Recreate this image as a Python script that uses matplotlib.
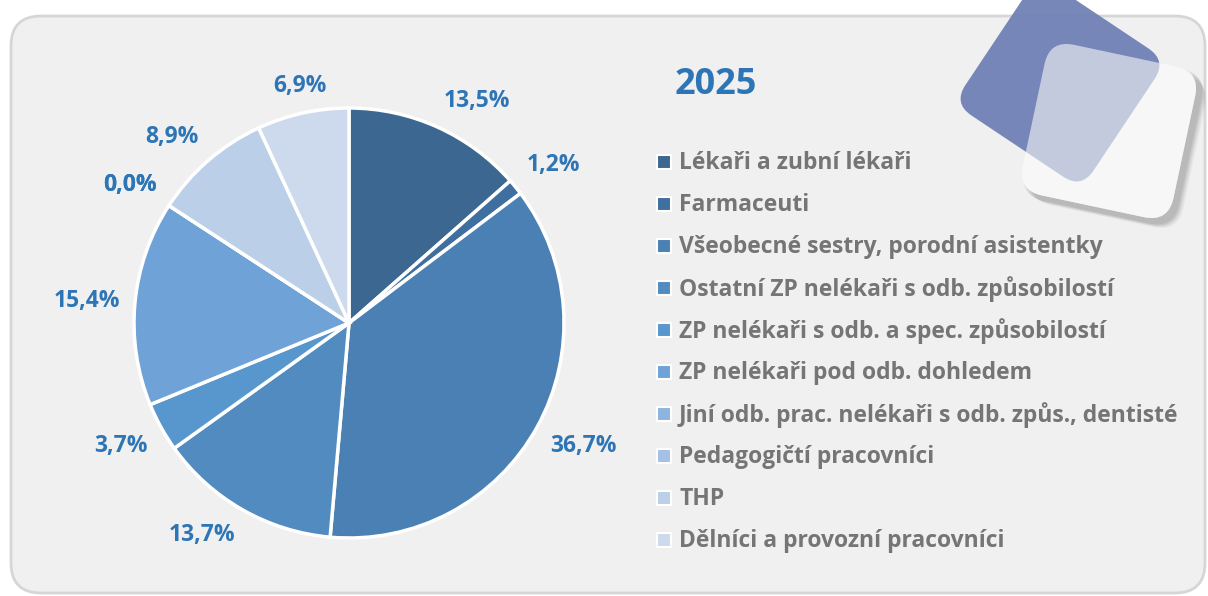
import matplotlib

matplotlib.use("Agg")
import matplotlib.pyplot as plt
import numpy as np
from matplotlib.patches import FancyBboxPatch
from matplotlib.transforms import Affine2D

plt.rcParams["font.family"] = ["Open Sans", "DejaVu Sans"]

title = "2025"
categories = [
    "Lékaři a zubní lékaři",
    "Farmaceuti",
    "Všeobecné sestry, porodní asistentky",
    "Ostatní ZP nelékaři s odb. způsobilostí",
    "ZP nelékaři s odb. a spec. způsobilostí",
    "ZP nelékaři pod odb. dohledem",
    "Jiní odb. prac. nelékaři s odb. způs., dentisté",
    "Pedagogičtí pracovníci",
    "THP",
    "Dělníci a provozní pracovníci",
]
shares = [13.5, 1.2, 36.7, 13.7, 3.7, 15.4, 0.0, 0.0, 8.9, 6.9]
colors = ["#3c6790", "#3f6f9f", "#4b80b4", "#528bc0", "#5897cd",
          "#6fa3d7", "#8db3df", "#a6c1e5", "#bbcfe8", "#cddaee"]

W, H = 1208, 596
fig = plt.figure(figsize=(W / 100, H / 100), dpi=100, facecolor="white")

# background panel + decorations, in pixel coords
bg = fig.add_axes([0, 0, 1, 1])
bg.set_xlim(0, W)
bg.set_ylim(H, 0)
bg.axis("off")
bg.add_patch(FancyBboxPatch((11, 16), 1194, 577, boxstyle="round,pad=0,rounding_size=30",
                            fc="#f0f0f0", ec="#d6d6d6", lw=2))


def rounded_square(cx, cy, side, rad, angle, **kw):
    p = FancyBboxPatch((cx - side / 2, cy - side / 2), side, side,
                       boxstyle=f"round,pad=0,rounding_size={rad}", **kw)
    p.set_transform(Affine2D().rotate_deg_around(cx, cy, angle) + bg.transData)
    bg.add_patch(p)
    return p


# shadow of the white square
for i, a in enumerate([0.05, 0.06, 0.07, 0.08, 0.09]):
    d = 10 - i * 1.5
    rounded_square(1109 + d, 131 + d, 154 + i, 25, 12, fc="#404040", ec="none", alpha=a)
rounded_square(1109, 131, 154, 25, 12, fc="#f7f7f7", ec="none")
rounded_square(1060, 82, 154, 22, 33.7, fc="#7283b6", ec="none", alpha=0.97)
rounded_square(1109, 131, 154, 25, 12, fc="#f7f7f7", ec="none", alpha=0.6)

# pie
cx, cy, R = 349, 323, 215
half = 300
ax = fig.add_axes([(cx - half) / W, (H - cy - half) / H, 2 * half / W, 2 * half / H])
ax.patch.set_alpha(0)
wedges, _ = ax.pie(shares, colors=colors, startangle=90, counterclock=False,
                   wedgeprops=dict(edgecolor="white", linewidth=2.5))
ax.set_xlim(-half / R, half / R)
ax.set_ylim(-half / R, half / R)

# outside-end labels, anchored by their nearest corner like Excel does
for w, v in zip(wedges, shares):
    th = np.deg2rad((w.theta1 + w.theta2) / 2)
    c, s = np.cos(th), np.sin(th)
    ha = "left" if c > 0.3 else "right" if c < -0.3 else "center"
    va = "bottom" if s > 0.3 else "top" if s < -0.3 else "center"
    ax.text(1.07 * c, 1.07 * s, f"{v:.1f}%".replace(".", ","), ha=ha, va=va,
            color="#2e75b6", fontsize=16.5, fontweight="bold")

fig.text(716 / W, 1 - 85 / H, title, color="#2e75b6", fontsize=26,
         fontweight="bold", ha="center", va="center")

# legend, drawn by hand so the rows sit where the original has them
for i, (lab, c) in enumerate(zip(categories, colors)):
    y = 162 + i * 42
    bg.plot(664, y, marker="s", markersize=10, markerfacecolor=c,
            markeredgecolor="white", markeredgewidth=1.5)
    bg.text(679, y + 1, lab, color="#757575", fontsize=16.5, fontweight="bold",
            va="center", ha="left")

fig.savefig("out.png", dpi=100, facecolor="white")
